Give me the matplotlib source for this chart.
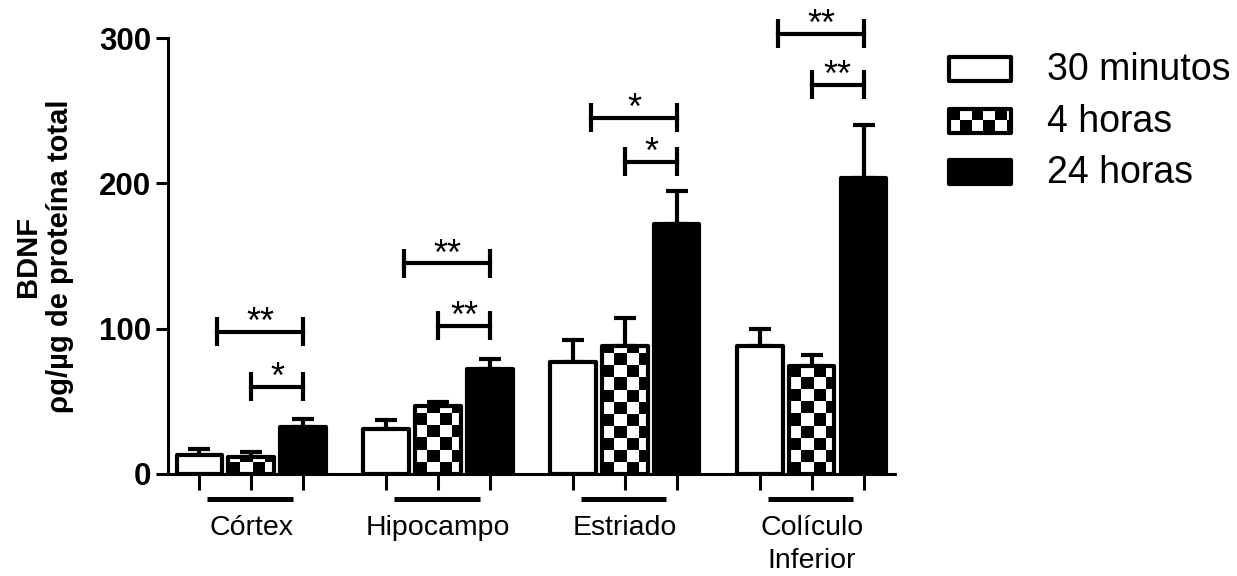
import numpy as np
import matplotlib
matplotlib.use("Agg")
import matplotlib.pyplot as plt
from matplotlib.patches import Rectangle
import matplotlib.transforms as mtransforms

plt.rcParams['font.family'] = ['Liberation Sans', 'DejaVu Sans']

# data
regions = ["Córtex", "Hipocampo", "Estriado", "Colículo\nInferior"]
series = ["30 minutos", "4 horas", "24 horas"]
mean_30min = [13, 31, 77, 88]
mean_4h = [12, 47, 88, 74]
mean_24h = [32, 72, 172, 204]
sem_30min = [4, 6, 15, 12]
sem_4h = [3, 2.5, 19, 8]
sem_24h = [6, 7, 23, 36]
# significance brackets: (region, first bar, last bar, y level, label)
brackets = [
    (0, 0, 2, 98, "**"), (0, 1, 2, 60, "*"),
    (1, 0, 2, 145, "**"), (1, 1, 2, 102, "**"),
    (2, 0, 2, 245, "*"), (2, 1, 2, 215, "*"),
    (3, 0, 2, 303, "**"), (3, 1, 2, 268, "**"),
]

means = [mean_30min, mean_4h, mean_24h]
sems = [sem_30min, sem_4h, sem_24h]

fig = plt.figure(figsize=(12.37, 5.76), dpi=100)
ax = fig.add_axes([0.1358, 0.1771, 0.5877, 0.7569])

group_gap = 3.6
width = 0.87
lw = 3.0

def bar_x(g, j):
    return g * group_gap + j

def checker(axis, patch, x0, y0, w, h, sx, sy, z):
    nc = int(np.ceil(w / sx))
    nr = int(np.ceil(h / sy))
    arr = (np.add.outer(np.arange(nr), np.arange(nc)) % 2).astype(float)
    im = axis.imshow(arr, cmap='gray', extent=(x0, x0 + nc * sx, y0, y0 + nr * sy),
                     origin='lower', aspect='auto', interpolation='nearest', zorder=z)
    im.set_clip_path(patch)
    return im

faces = ['white', 'white', 'black']
for j in range(3):
    xs = [bar_x(g, j) for g in range(len(regions))]
    ax.errorbar(xs, means[j], yerr=[np.zeros(len(xs)), sems[j]], fmt='none',
                ecolor='black', elinewidth=lw, capsize=8, capthick=lw, zorder=1.5)
    bars = ax.bar(xs, means[j], width=width, color=faces[j], edgecolor='none', zorder=2)
    if j == 1:
        for b in bars:
            checker(ax, b, b.get_x(), 0, b.get_width(), b.get_height(), 0.235, 8.3, 2.5)
    ax.bar(xs, means[j], width=width, color='none', edgecolor='black',
           linewidth=lw, zorder=3, joinstyle='round')

# brackets
for g, a, b, y, lab in brackets:
    x0 = bar_x(g, a) + (0.35 if a == 0 else 0)
    x1 = bar_x(g, b)
    ax.plot([x0, x1], [y, y], color='black', lw=lw, clip_on=False, zorder=4)
    for xx in (x0, x1):
        ax.plot([xx, xx], [y - 10, y + 10], color='black', lw=lw, clip_on=False,
                zorder=4, solid_capstyle='butt')
    ax.text((x0 + x1) / 2, y - 1, lab, ha='center', va='baseline', fontsize=26,
            clip_on=False)

# group lines and labels
trans = mtransforms.blended_transform_factory(ax.transData, ax.transAxes)
for g, name in enumerate(regions):
    ax.plot([bar_x(g, 0) + 0.15, bar_x(g, 2) - 0.2], [-0.057, -0.057], color='black',
            lw=3.6, transform=trans, clip_on=False, solid_capstyle='butt')
    ax.text(bar_x(g, 1), -0.093, name, transform=trans, ha='center', va='top',
            fontsize=20.5, linespacing=1.35)

ax.set_xlim(-0.6, bar_x(3, 2) + 0.6)
ax.set_ylim(0, 300)
ax.set_xticks([bar_x(g, j) for g in range(len(regions)) for j in range(3)])
ax.set_xticklabels([])
ax.set_yticks([0, 100, 200, 300])
ax.set_yticklabels(['0', '100', '200', '300'], fontweight='bold', fontsize=22.5)
ax.tick_params(axis='x', length=11.5, width=2.2, direction='out')
ax.tick_params(axis='y', length=9, width=2.2, direction='out', pad=3)
for s in ('top', 'right'):
    ax.spines[s].set_visible(False)
for s in ('left', 'bottom'):
    ax.spines[s].set_linewidth(2.2)
ax.set_ylabel("BDNF\nρg/µg de proteína total", fontweight='bold', fontsize=21,
              labelpad=18, linespacing=1.2)

# legend (drawn manually in pixel coords)
lax = fig.add_axes([930 / 1237, 1 - 200 / 576, 307 / 1237, 160 / 576])
lax.set_xlim(930, 1237)
lax.set_ylim(200, 40)
lax.axis('off')
for k, name in enumerate(series):
    yc = 69 + k * 51.5
    r = Rectangle((949, yc - 12), 62, 24, facecolor=faces[k], edgecolor='none', zorder=2)
    lax.add_patch(r)
    if k == 1:
        checker(lax, r, 949, yc - 12, 62, 24, 11.5, 12, 2.5)
        lax.set_xlim(930, 1237)
        lax.set_ylim(200, 40)
    lax.add_patch(Rectangle((949, yc - 12), 62, 24, facecolor='none', edgecolor='black',
                            lw=3.0, zorder=3, joinstyle='round'))
    lax.text(1047, yc + 1, name, fontsize=27, va='center', ha='left')

fig.savefig("out.png", dpi=100)
